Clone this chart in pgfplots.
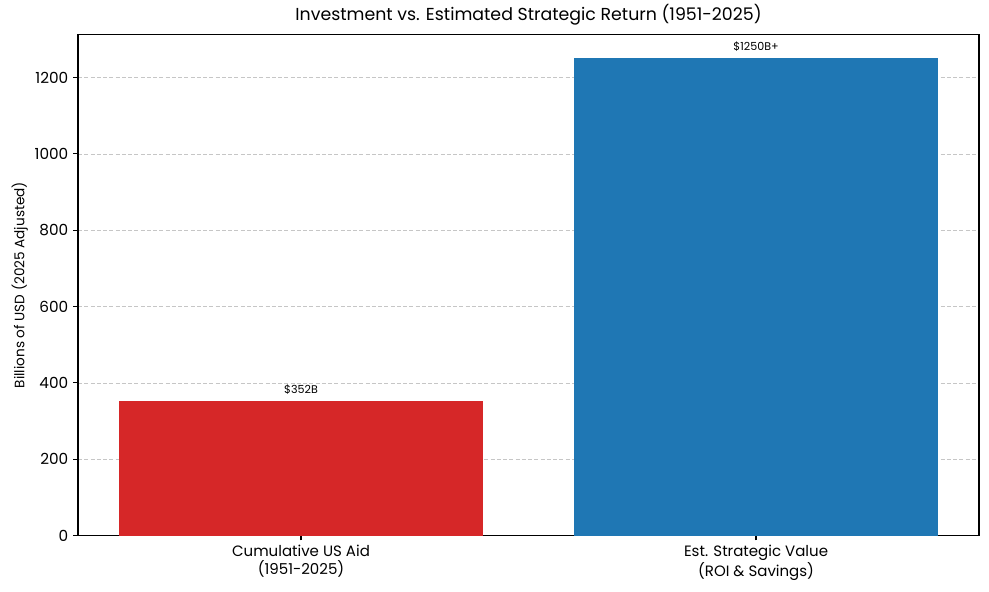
\documentclass[border=0pt]{standalone}
\usepackage{pgfplots}
\pgfplotsset{compat=1.18}
\usepackage{fontspec}
\setmainfont{Poppins}
\definecolor{mred}{HTML}{D62728}
\definecolor{mblue}{HTML}{1F77B4}
\begin{document}
\begin{tikzpicture}
\begin{axis}[
  scale only axis,
  width=648.7pt, height=360.7pt,
  xmin=-0.49, xmax=1.49,
  ymin=0, ymax=1312.5,
  xtick={0,1},
  xticklabels={{Cumulative US Aid\\(1951-2025)},{Est. Strategic Value\\(ROI \& Savings)}},
  xticklabel style={align=center, font=\fontsize{10.8}{12.5}\selectfont},
  yticklabel style={font=\fontsize{11}{12}\selectfont},
  ytick={0,200,400,600,800,1000,1200},
  /pgf/number format/assume math mode=true,
  /pgf/number format/1000 sep={},
  scaled y ticks=false,
  ymajorgrids,
  grid style={dash pattern=on 3pt off 1.5pt, gray!45, line width=0.5pt},
  axis line style={line width=0.8pt},
  tick style={black, line width=0.8pt},
  tick align=outside,
  major tick length=3.5pt,
  xtick pos=bottom, ytick pos=left,
  ylabel={Billions of USD (2025 Adjusted)},
  ylabel style={font=\fontsize{9.8}{11}\selectfont, yshift=-2pt},
  title={Investment vs. Estimated Strategic Return (1951-2025)},
  title style={font=\fontsize{12.5}{15}\selectfont, yshift=-3pt},
  clip=false,
]
\addplot[ybar, bar width=0.8, bar shift=0pt, fill=mred, draw=none] coordinates {(0,352)};
\addplot[ybar, bar width=0.8, bar shift=0pt, fill=mblue, draw=none] coordinates {(1,1250)};
\node[font=\fontsize{8}{9}\selectfont, anchor=south] at (axis cs:0,357) {\$352B};
\node[font=\fontsize{8}{9}\selectfont, anchor=south] at (axis cs:1,1255) {\$1250B+};
\end{axis}
\useasboundingbox (-56.2pt,-40.3pt) rectangle (655.9pt,384.5pt);
\end{tikzpicture}
\end{document}
